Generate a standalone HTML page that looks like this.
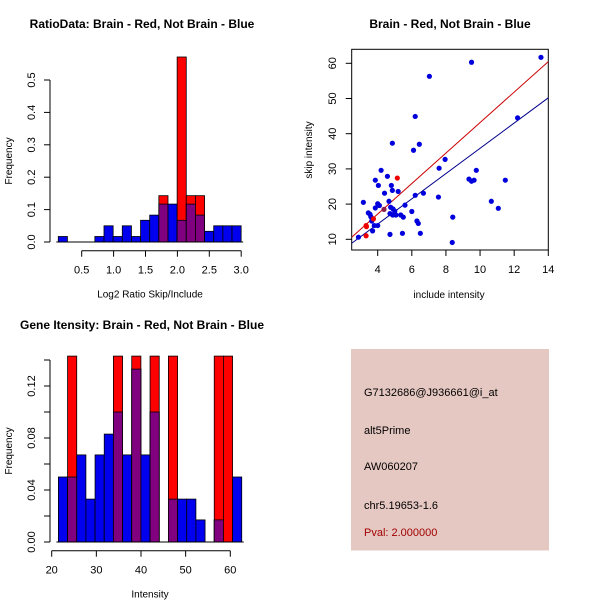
<!DOCTYPE html>
<html><head><meta charset="utf-8"><style>
body{margin:0;background:#fff}
svg{font-family:"Liberation Sans",sans-serif;display:block}
</style></head><body>
<svg id="c" width="600" height="600" viewBox="0 0 600 600">
<rect x="351" y="349" width="198" height="201.5" fill="#e6c8c2"/>
<g font-size="11" fill="#000">
<text x="364" y="396">G7132686@J936661@i_at</text>
<text x="364" y="434">alt5Prime</text>
<text x="364" y="470">AW060207</text>
<text x="364" y="509">chr5.19653-1.6</text>
<text x="364" y="536" fill="#a00000">Pval: 2.000000</text>
</g>
</svg>
<script>
// Ratio histogram data
const ratioStart = 0.133, ratioWidth = 0.1433;
const ratioBlue = [0.017,0,0,0,0.017,0.05,0.017,0.05,0.017,0.067,0.083,0.117,0.117,0.067,0.117,0.083,0.033,0.05,0.05,0.05];
const ratioRed  = [0,0,0,0,0,0,0,0,0,0,0,0.143,0,0.571,0.143,0.143,0,0,0,0];
const ratioXTicks = [0.5,1.0,1.5,2.0,2.5,3.0];
const ratioYTicks = [0,0.1,0.2,0.3,0.4,0.5];
// Intensity histogram data
const intStart = 21.5, intWidth = 2.053;
const intBlue = [0.05,0.05,0.067,0.033,0.067,0.083,0.1,0.067,0.133,0.067,0.1,0,0.033,0.033,0.033,0.017,0,0.017,0,0.05];
const intRed  = [0,0.143,0,0,0,0,0.143,0,0.143,0,0.143,0,0.143,0,0,0,0,0.143,0.143,0];
const intXTicks = [20,30,40,50,60];
const intYTicks = [0,0.02,0.04,0.06,0.08,0.10,0.12,0.14];
const intYLabels = ["0.00","","0.04","","0.08","","0.12",""];
// Scatter data
const blueX = [2.87,3.16,3.45,3.55,3.6,3.65,3.7,3.8,4.0,3.86,3.86,4.0,4.04,4.1,4.2,4.4,4.57,4.66,4.72,4.72,4.8,4.86,4.86,4.76,4.9,5.0,4.88,5.07,5.2,5.35,5.5,5.45,5.6,6.0,6.1,6.2,6.2,6.3,6.38,6.44,6.5,6.68,7.03,7.56,7.6,7.95,8.4,8.37,9.35,9.5,9.5,9.65,9.78,10.66,11.07,11.48,12.2,13.57];
const blueY = [10.6,20.5,17.5,17.1,16.4,15.2,12.4,13.9,13.9,18.9,26.8,20.1,25.3,19.6,29.6,23.1,27.9,20.8,17.3,11.4,25.3,23.9,37.3,19.1,18.6,18.0,16.9,16.9,23.6,16.9,16.3,11.7,19.7,17.9,35.3,44.9,22.5,15.2,14.5,37.0,11.7,23.1,56.3,22.0,30.2,32.7,16.3,9.1,27.1,60.3,26.5,26.8,29.6,20.8,18.8,26.8,44.5,61.7];
const redX = [3.32,3.34,3.32,3.75,4.37,5.15];
const redY = [13.9,13.6,11.0,15.8,18.5,27.4];
const fitRed = [-0.14, 4.33];   // intercept, slope
const fitBlue = [0.0, 3.585];
const scXTicks = [4,6,8,10,12,14];
const scYTicks = [10,20,30,40,50,60];

const svg = document.getElementById('c');
const NS = 'http://www.w3.org/2000/svg';
function mk(tag, attrs, parent){const e=document.createElementNS(NS,tag);for(const k in attrs)e.setAttribute(k,attrs[k]);(parent||svg).appendChild(e);return e;}
function txt(x,y,s,attrs){const e=mk('text',Object.assign({x:x,y:y,'font-size':11,'text-anchor':'middle'},attrs||{}));e.textContent=s;return e;}

function histogram(cfg){
  const g=mk('g',{});
  
  
  const X=v=>cfg.x0+(v-cfg.xv0)*cfg.xs, Y=v=>cfg.y0-v*cfg.ys;
  cfg.blue.forEach((b,i)=>{
    const r=cfg.red[i];
    const l=X(cfg.start+i*cfg.width), w=cfg.width*cfg.xs;
    const draw=(v,col,nm)=>{ if(v<=0) return; const e=mk('rect',{x:l,y:Y(v),width:w,height:Y(0)-Y(v),fill:col,stroke:'#000','stroke-width':0.8},g);
      
       };
    draw(b,'#0000ee','bar-blue-'+i);
    draw(r,'#ff0000','bar-red-'+i);
    if(b>0&&r>0) draw(Math.min(b,r),'#800080','bar-overlap-'+i);
  });
  const yt=cfg.yTicks;
  const ya=mk('line',{x1:cfg.yAxisX,x2:cfg.yAxisX,y1:Y(yt[0]),y2:Y(yt[yt.length-1]),stroke:'#000'},g);
  
  
  yt.forEach((t,i)=>{mk('line',{x1:cfg.yAxisX-6,x2:cfg.yAxisX,y1:Y(t),y2:Y(t),stroke:'#000'},g);
    const lab=cfg.yLabels?cfg.yLabels[i]:t.toFixed(1);
    if(lab){const e=txt(cfg.yAxisX-18,Y(t),lab,{transform:`rotate(-90 ${cfg.yAxisX-18} ${Y(t)})`,'dominant-baseline':'middle'});
      
      }});
  const xt=cfg.xTicks;
  const xa=mk('line',{x1:X(xt[0]),x2:X(xt[xt.length-1]),y1:cfg.xAxisY,y2:cfg.xAxisY,stroke:'#000'},g);
  
  
  xt.forEach(t=>{mk('line',{x1:X(t),x2:X(t),y1:cfg.xAxisY,y2:cfg.xAxisY+6,stroke:'#000'},g);
    const e=txt(X(t),cfg.xAxisY+23,cfg.xFmt(t));
    
    });
  mk('line',{x1:X(cfg.start)-2,x2:X(cfg.start+cfg.width*cfg.blue.length)+2,y1:Y(0),y2:Y(0),stroke:'#000'},g);
  const t=txt(cfg.titleX,cfg.titleY,cfg.title,{'font-weight':'bold','font-size':12});
  
  
  const xl=txt(cfg.xAxisLabelX,cfg.xAxisY+47,cfg.xLabel,{'font-size':10});
  
  
  const yc=(Y(yt[0])+Y(yt[yt.length-1]))/2;
  const yl=txt(12,yc,'Frequency',{'font-size':10,transform:`rotate(-90 12 ${yc})`});
  
  
}

histogram({name:'ratio-histogram',blue:ratioBlue,red:ratioRed,start:ratioStart,width:ratioWidth,
  x0:81.7,xv0:0.5,xs:63.8,y0:242,ys:324,yAxisX:50,xAxisY:250.7,
  xTicks:ratioXTicks,yTicks:ratioYTicks,xFmt:t=>t.toFixed(1),
  title:'RatioData: Brain - Red, Not Brain - Blue',titleX:142,titleY:28,xLabel:'Log2 Ratio Skip/Include',xAxisLabelX:150});

histogram({name:'intensity-histogram',blue:intBlue,red:intRed,start:intStart,width:intWidth,
  x0:51.7,xv0:20,xs:4.465,y0:542,ys:1300,yAxisX:50,xAxisY:550.7,
  xTicks:intXTicks,yTicks:intYTicks,yLabels:intYLabels,xFmt:t=>String(t),
  title:'Gene Itensity: Brain - Red, Not Brain - Blue',titleX:142,titleY:329,xLabel:'Intensity',xAxisLabelX:150});

(function(){
  const g=mk('g',{});
  
  
  const X=v=>377.7+(v-4)*17.06, Y=v=>239.3-(v-10)*3.52;
  const box=mk('rect',{x:351.7,y:49.3,width:196.6,height:200.7,fill:'none',stroke:'#000'},g);
  
  
  const xmin=(351.7-377.7)/17.06+4, xmax=(548.3-377.7)/17.06+4;
  [[fitRed,'#cc0000','fit-line-red'],[fitBlue,'#00008b','fit-line-blue']].forEach(([f,c,n])=>{
    const l=mk('line',{x1:X(xmin),y1:Y(f[0]+f[1]*xmin),x2:X(xmax),y2:Y(f[0]+f[1]*xmax),stroke:c,'stroke-width':1},g);
    
    
  });
  blueX.forEach((x,i)=>{const p=mk('circle',{cx:X(x),cy:Y(blueY[i]),r:2.6,fill:'#0000dd'},g);
    
    });
  redX.forEach((x,i)=>{const p=mk('circle',{cx:X(x),cy:Y(redY[i]),r:2.6,fill:i===4?'#8a2050':'#ee0000'},g);
    
    });
  scXTicks.forEach(t=>{mk('line',{x1:X(t),x2:X(t),y1:250,y2:256,stroke:'#000'},g);
    const e=txt(X(t),273,String(t));  });
  scYTicks.forEach(t=>{mk('line',{x1:345.7,x2:351.7,y1:Y(t),y2:Y(t),stroke:'#000'},g);
    const e=txt(333,Y(t),String(t),{transform:`rotate(-90 333 ${Y(t)})`,'dominant-baseline':'middle'});  });
  const t=txt(450,28,'Brain - Red, Not Brain - Blue',{'font-weight':'bold','font-size':12});
   
  const xl=txt(449,298,'include intensity',{'font-size':10});
   
  const yl=txt(312,150,'skip intensity',{'font-size':10,transform:'rotate(-90 312 150)'});
   
})();
</script>
</body></html>
